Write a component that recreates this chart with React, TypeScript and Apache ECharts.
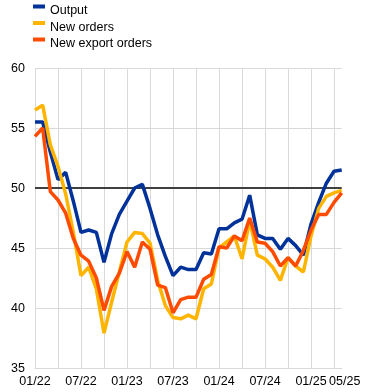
import React, { useEffect, useRef } from "react";
import * as echarts from "echarts";

const months = [
  "01/22", "02/22", "03/22", "04/22", "05/22", "06/22", "07/22", "08/22", "09/22", "10/22", "11/22", "12/22",
  "01/23", "02/23", "03/23", "04/23", "05/23", "06/23", "07/23", "08/23", "09/23", "10/23", "11/23", "12/23",
  "01/24", "02/24", "03/24", "04/24", "05/24", "06/24", "07/24", "08/24", "09/24", "10/24", "11/24", "12/24",
  "01/25", "02/25", "03/25", "04/25", "05/25",
];

const output = [
  55.5, 55.5, 53.0, 50.7, 51.3, 48.9, 46.3, 46.5, 46.3, 43.8,
  46.2, 47.8, 48.9, 50.0, 50.3, 48.3, 46.1, 44.3, 42.7, 43.4,
  43.2, 43.2, 44.6, 44.5, 46.6, 46.6, 47.1, 47.4, 49.4, 46.1,
  45.8, 45.8, 44.9, 45.8, 45.2, 44.4, 47.0, 48.8, 50.4, 51.4, 51.5,
];

const newOrders = [
  56.5, 56.9, 53.6, 51.8, 49.5, 46.3, 42.7, 43.4, 41.6, 37.9,
  40.5, 43.0, 45.5, 46.3, 46.2, 45.4, 42.3, 40.2, 39.2, 39.1,
  39.4, 39.1, 41.6, 42.0, 45.0, 45.5, 46.0, 44.1, 47.3, 44.4,
  44.1, 43.4, 42.3, 44.2, 43.5, 43.0, 46.0, 48.3, 49.3, 49.6, 49.8,
];

const newExportOrders = [
  54.3, 55.0, 49.7, 49.0, 47.9, 45.8, 44.4, 43.9, 42.5, 39.8,
  41.8, 42.9, 44.7, 43.4, 45.5, 44.9, 41.9, 41.7, 39.6, 40.7,
  40.9, 40.9, 42.4, 42.8, 45.1, 45.0, 46.0, 45.6, 47.5, 45.5,
  45.4, 44.7, 43.5, 44.2, 43.5, 44.8, 46.5, 47.8, 47.8, 48.8, 49.6,
];

const seriesNames = ["Output", "New orders", "New export orders"];
const seriesColors = ["#003299", "#FFB400", "#FF4B00"];
const referenceLevel = 50;

const FONT = 'Arial, "Liberation Sans", sans-serif';

export default function App() {
  const ref = useRef<HTMLDivElement>(null);

  useEffect(() => {
    if (!ref.current) return;
    const chart = echarts.init(ref.current, undefined, { renderer: "svg" });
    const values = [output, newOrders, newExportOrders];
    const lastIdx = months.length - 1;

    chart.setOption({
      animation: false,
      textStyle: { fontFamily: FONT },
      legend: {
        orient: "vertical",
        left: 28,
        top: -2,
        itemWidth: 12,
        itemHeight: 11,
        itemGap: 2.5,
        icon: "path://M0,0H12V4H0Z M0,11H0.01V11.01H0Z",
        textStyle: {
          fontFamily: FONT,
          fontSize: 12.5,
          color: "#000",
          lineHeight: 14,
        },
        data: seriesNames,
      },
      grid: { left: 35, right: 30.3, top: 68, bottom: 24, containLabel: false },
      xAxis: {
        type: "category",
        data: months,
        boundaryGap: false,
        axisLine: { show: true, lineStyle: { color: "#d9d9d9", width: 1 } },
        axisTick: { show: false },
        axisLabel: {
          interval: (idx: number) => idx % 6 === 0 || idx === lastIdx,
          showMaxLabel: true,
          hideOverlap: false,
          color: "#000",
          fontSize: 12.5,
          fontFamily: FONT,
          margin: 6,
          formatter: (v: string, idx: number) => (idx === lastIdx ? `{last|${v}}` : v),
          rich: {
            last: { color: "#000", fontSize: 12.5, fontFamily: FONT, padding: [0, 0, 0, 6] },
          },
        },
        splitLine: {
          show: true,
          interval: (idx: number) => idx % 3 === 0,
          lineStyle: { color: "#d9d9d9", width: 1 },
        },
      },
      yAxis: {
        type: "value",
        min: 35,
        max: 60,
        interval: 5,
        axisLine: { show: false },
        axisTick: { show: false },
        axisLabel: { color: "#000", fontSize: 12.5, fontFamily: FONT, margin: 10 },
        splitLine: { show: true, lineStyle: { color: "#d9d9d9", width: 1 } },
      },
      series: seriesNames.map((name, i) => ({
        name,
        type: "line",
        data: values[i],
        symbol: "none",
        lineStyle: { color: seriesColors[i], width: 3.5 },
        itemStyle: { color: seriesColors[i] },
        z: 3 + i,
        markLine:
          i === 0
            ? {
                silent: true,
                symbol: "none",
                label: { show: false },
                lineStyle: { color: "#404040", width: 2, type: "solid" },
                data: [{ yAxis: referenceLevel }],
                z: 1,
              }
            : undefined,
      })),
    });

    return () => chart.dispose();
  }, []);

  return (
    <div
      ref={ref}
      style={{ position: "fixed", left: 0, top: 0, width: 372, height: 392 }}
    />
  );
}
